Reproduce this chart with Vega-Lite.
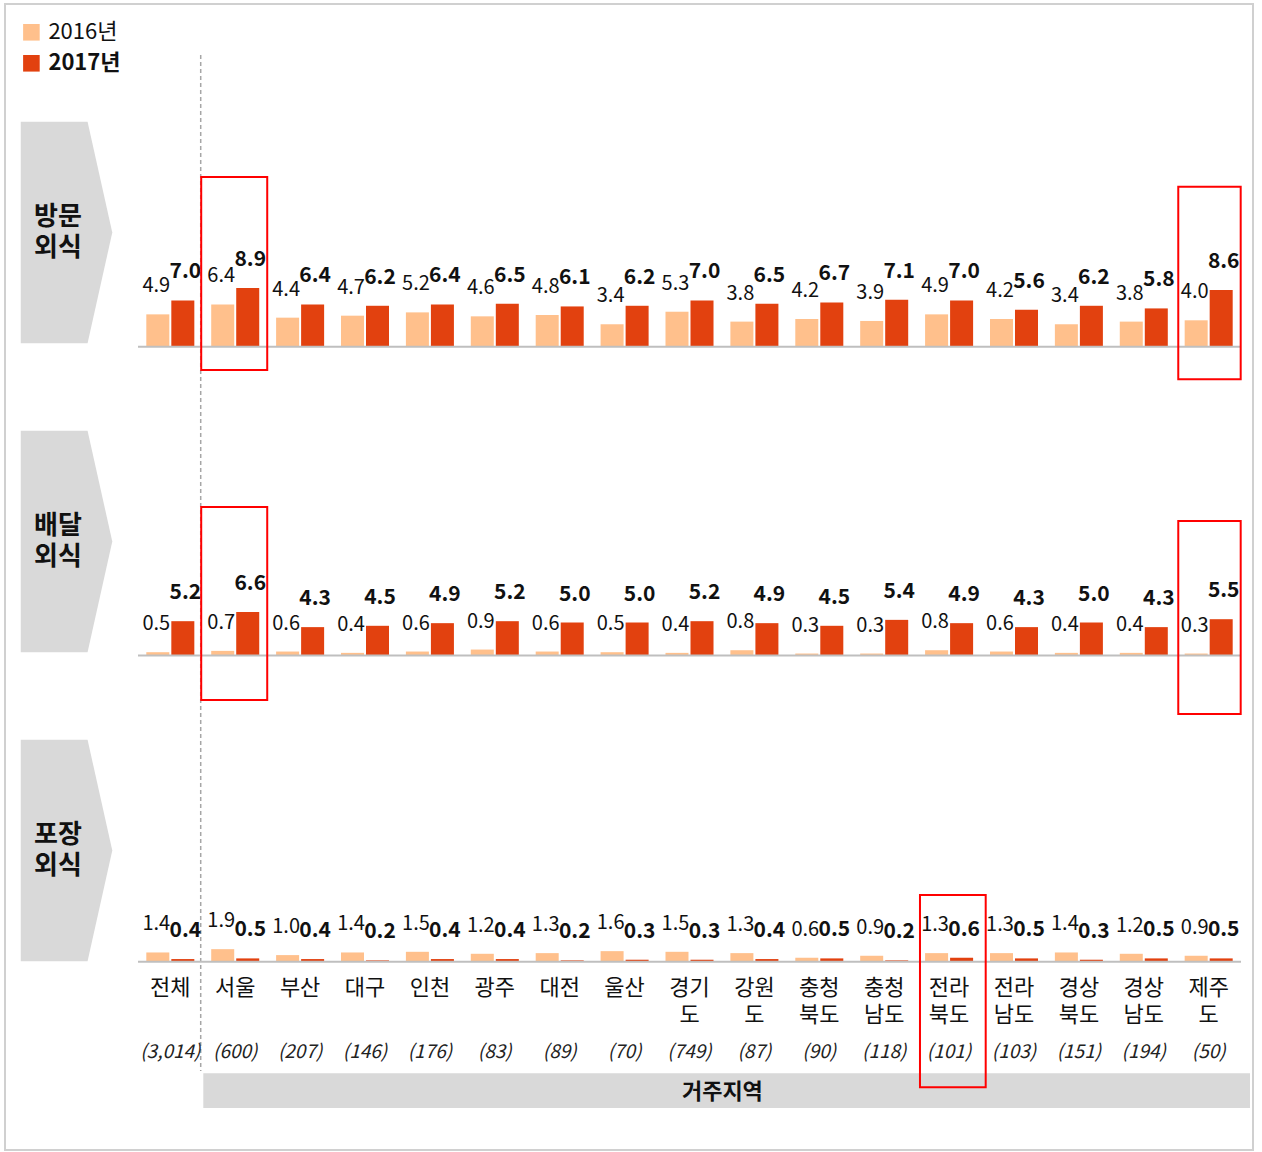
{
  "$schema": "https://vega.github.io/schema/vega-lite/v6.json",
  "width": 1248,
  "height": 1146,
  "padding": {"left": 5, "top": 4, "right": 9, "bottom": 2},
  "autosize": {"type": "none"},
  "background": "white",
  "config": {
    "view": {"stroke": "#d0d0d0", "strokeWidth": 2},
    "font": "Noto Sans CJK KR",
    "text": {"font": "Noto Sans CJK KR", "color": "#111111"}
  },
  "datasets": {
    "main": [
      {"panel": "방문", "region": "전체", "year": "2016년", "value": 4.9},
      {"panel": "방문", "region": "전체", "year": "2017년", "value": 7.0},
      {"panel": "방문", "region": "서울", "year": "2016년", "value": 6.4},
      {"panel": "방문", "region": "서울", "year": "2017년", "value": 8.9},
      {"panel": "방문", "region": "부산", "year": "2016년", "value": 4.4},
      {"panel": "방문", "region": "부산", "year": "2017년", "value": 6.4},
      {"panel": "방문", "region": "대구", "year": "2016년", "value": 4.7},
      {"panel": "방문", "region": "대구", "year": "2017년", "value": 6.2},
      {"panel": "방문", "region": "인천", "year": "2016년", "value": 5.2},
      {"panel": "방문", "region": "인천", "year": "2017년", "value": 6.4},
      {"panel": "방문", "region": "광주", "year": "2016년", "value": 4.6},
      {"panel": "방문", "region": "광주", "year": "2017년", "value": 6.5},
      {"panel": "방문", "region": "대전", "year": "2016년", "value": 4.8},
      {"panel": "방문", "region": "대전", "year": "2017년", "value": 6.1},
      {"panel": "방문", "region": "울산", "year": "2016년", "value": 3.4},
      {"panel": "방문", "region": "울산", "year": "2017년", "value": 6.2},
      {"panel": "방문", "region": "경기도", "year": "2016년", "value": 5.3},
      {"panel": "방문", "region": "경기도", "year": "2017년", "value": 7.0},
      {"panel": "방문", "region": "강원도", "year": "2016년", "value": 3.8},
      {"panel": "방문", "region": "강원도", "year": "2017년", "value": 6.5},
      {"panel": "방문", "region": "충청북도", "year": "2016년", "value": 4.2},
      {"panel": "방문", "region": "충청북도", "year": "2017년", "value": 6.7},
      {"panel": "방문", "region": "충청남도", "year": "2016년", "value": 3.9},
      {"panel": "방문", "region": "충청남도", "year": "2017년", "value": 7.1},
      {"panel": "방문", "region": "전라북도", "year": "2016년", "value": 4.9},
      {"panel": "방문", "region": "전라북도", "year": "2017년", "value": 7.0},
      {"panel": "방문", "region": "전라남도", "year": "2016년", "value": 4.2},
      {"panel": "방문", "region": "전라남도", "year": "2017년", "value": 5.6},
      {"panel": "방문", "region": "경상북도", "year": "2016년", "value": 3.4},
      {"panel": "방문", "region": "경상북도", "year": "2017년", "value": 6.2},
      {"panel": "방문", "region": "경상남도", "year": "2016년", "value": 3.8},
      {"panel": "방문", "region": "경상남도", "year": "2017년", "value": 5.8},
      {"panel": "방문", "region": "제주도", "year": "2016년", "value": 4.0},
      {"panel": "방문", "region": "제주도", "year": "2017년", "value": 8.6},
      {"panel": "배달", "region": "전체", "year": "2016년", "value": 0.5},
      {"panel": "배달", "region": "전체", "year": "2017년", "value": 5.2},
      {"panel": "배달", "region": "서울", "year": "2016년", "value": 0.7},
      {"panel": "배달", "region": "서울", "year": "2017년", "value": 6.6},
      {"panel": "배달", "region": "부산", "year": "2016년", "value": 0.6},
      {"panel": "배달", "region": "부산", "year": "2017년", "value": 4.3},
      {"panel": "배달", "region": "대구", "year": "2016년", "value": 0.4},
      {"panel": "배달", "region": "대구", "year": "2017년", "value": 4.5},
      {"panel": "배달", "region": "인천", "year": "2016년", "value": 0.6},
      {"panel": "배달", "region": "인천", "year": "2017년", "value": 4.9},
      {"panel": "배달", "region": "광주", "year": "2016년", "value": 0.9},
      {"panel": "배달", "region": "광주", "year": "2017년", "value": 5.2},
      {"panel": "배달", "region": "대전", "year": "2016년", "value": 0.6},
      {"panel": "배달", "region": "대전", "year": "2017년", "value": 5.0},
      {"panel": "배달", "region": "울산", "year": "2016년", "value": 0.5},
      {"panel": "배달", "region": "울산", "year": "2017년", "value": 5.0},
      {"panel": "배달", "region": "경기도", "year": "2016년", "value": 0.4},
      {"panel": "배달", "region": "경기도", "year": "2017년", "value": 5.2},
      {"panel": "배달", "region": "강원도", "year": "2016년", "value": 0.8},
      {"panel": "배달", "region": "강원도", "year": "2017년", "value": 4.9},
      {"panel": "배달", "region": "충청북도", "year": "2016년", "value": 0.3},
      {"panel": "배달", "region": "충청북도", "year": "2017년", "value": 4.5},
      {"panel": "배달", "region": "충청남도", "year": "2016년", "value": 0.3},
      {"panel": "배달", "region": "충청남도", "year": "2017년", "value": 5.4},
      {"panel": "배달", "region": "전라북도", "year": "2016년", "value": 0.8},
      {"panel": "배달", "region": "전라북도", "year": "2017년", "value": 4.9},
      {"panel": "배달", "region": "전라남도", "year": "2016년", "value": 0.6},
      {"panel": "배달", "region": "전라남도", "year": "2017년", "value": 4.3},
      {"panel": "배달", "region": "경상북도", "year": "2016년", "value": 0.4},
      {"panel": "배달", "region": "경상북도", "year": "2017년", "value": 5.0},
      {"panel": "배달", "region": "경상남도", "year": "2016년", "value": 0.4},
      {"panel": "배달", "region": "경상남도", "year": "2017년", "value": 4.3},
      {"panel": "배달", "region": "제주도", "year": "2016년", "value": 0.3},
      {"panel": "배달", "region": "제주도", "year": "2017년", "value": 5.5},
      {"panel": "포장", "region": "전체", "year": "2016년", "value": 1.4},
      {"panel": "포장", "region": "전체", "year": "2017년", "value": 0.4},
      {"panel": "포장", "region": "서울", "year": "2016년", "value": 1.9},
      {"panel": "포장", "region": "서울", "year": "2017년", "value": 0.5},
      {"panel": "포장", "region": "부산", "year": "2016년", "value": 1.0},
      {"panel": "포장", "region": "부산", "year": "2017년", "value": 0.4},
      {"panel": "포장", "region": "대구", "year": "2016년", "value": 1.4},
      {"panel": "포장", "region": "대구", "year": "2017년", "value": 0.2},
      {"panel": "포장", "region": "인천", "year": "2016년", "value": 1.5},
      {"panel": "포장", "region": "인천", "year": "2017년", "value": 0.4},
      {"panel": "포장", "region": "광주", "year": "2016년", "value": 1.2},
      {"panel": "포장", "region": "광주", "year": "2017년", "value": 0.4},
      {"panel": "포장", "region": "대전", "year": "2016년", "value": 1.3},
      {"panel": "포장", "region": "대전", "year": "2017년", "value": 0.2},
      {"panel": "포장", "region": "울산", "year": "2016년", "value": 1.6},
      {"panel": "포장", "region": "울산", "year": "2017년", "value": 0.3},
      {"panel": "포장", "region": "경기도", "year": "2016년", "value": 1.5},
      {"panel": "포장", "region": "경기도", "year": "2017년", "value": 0.3},
      {"panel": "포장", "region": "강원도", "year": "2016년", "value": 1.3},
      {"panel": "포장", "region": "강원도", "year": "2017년", "value": 0.4},
      {"panel": "포장", "region": "충청북도", "year": "2016년", "value": 0.6},
      {"panel": "포장", "region": "충청북도", "year": "2017년", "value": 0.5},
      {"panel": "포장", "region": "충청남도", "year": "2016년", "value": 0.9},
      {"panel": "포장", "region": "충청남도", "year": "2017년", "value": 0.2},
      {"panel": "포장", "region": "전라북도", "year": "2016년", "value": 1.3},
      {"panel": "포장", "region": "전라북도", "year": "2017년", "value": 0.6},
      {"panel": "포장", "region": "전라남도", "year": "2016년", "value": 1.3},
      {"panel": "포장", "region": "전라남도", "year": "2017년", "value": 0.5},
      {"panel": "포장", "region": "경상북도", "year": "2016년", "value": 1.4},
      {"panel": "포장", "region": "경상북도", "year": "2017년", "value": 0.3},
      {"panel": "포장", "region": "경상남도", "year": "2016년", "value": 1.2},
      {"panel": "포장", "region": "경상남도", "year": "2017년", "value": 0.5},
      {"panel": "포장", "region": "제주도", "year": "2016년", "value": 0.9},
      {"panel": "포장", "region": "제주도", "year": "2017년", "value": 0.5}
    ],
    "regions": [
      {"region": "전체", "label": "전체", "n": "(3,014)"},
      {"region": "서울", "label": "서울", "n": "(600)"},
      {"region": "부산", "label": "부산", "n": "(207)"},
      {"region": "대구", "label": "대구", "n": "(146)"},
      {"region": "인천", "label": "인천", "n": "(176)"},
      {"region": "광주", "label": "광주", "n": "(83)"},
      {"region": "대전", "label": "대전", "n": "(89)"},
      {"region": "울산", "label": "울산", "n": "(70)"},
      {"region": "경기도", "label": "경기 도", "n": "(749)"},
      {"region": "강원도", "label": "강원 도", "n": "(87)"},
      {"region": "충청북도", "label": "충청 북도", "n": "(90)"},
      {"region": "충청남도", "label": "충청 남도", "n": "(118)"},
      {"region": "전라북도", "label": "전라 북도", "n": "(101)"},
      {"region": "전라남도", "label": "전라 남도", "n": "(103)"},
      {"region": "경상북도", "label": "경상 북도", "n": "(151)"},
      {"region": "경상남도", "label": "경상 남도", "n": "(194)"},
      {"region": "제주도", "label": "제주 도", "n": "(50)"}
    ]
  },
  "data": {"name": "main"},
  "resolve": {"scale": {"y": "independent"}},
  "layer": [
    {
      "data": {"values": [{"from": "서울", "to": "제주도"}]},
      "mark": {"type": "rect", "color": "#d9d9d9", "xOffset": -7.9, "x2Offset": 17.3},
      "encoding": {
        "x": {"field": "from", "type": "nominal", "bandPosition": 0, "axis": null, "scale": {"domain": ["전체","서울","부산","대구","인천","광주","대전","울산","경기도","강원도","충청북도","충청남도","전라북도","전라남도","경상북도","경상남도","제주도"], "range": [133, 1236], "paddingInner": 0.26, "paddingOuter": 0.128}},
        "x2": {"field": "to", "bandPosition": 1},
        "y": {"datum": -16.91, "type": "quantitative", "axis": null, "scale": {"domain": [-28.530, 145.106], "nice": false}},
        "y2": {"datum": -22.17}
      }
    },
    {
      "data": {"values": [{"region": "강원도", "label": "거주지역"}]},
      "mark": {"type": "text", "fontSize": 22, "fontWeight": "bold", "baseline": "middle", "align": "center", "dx": -8},
      "encoding": {
        "x": {"field": "region", "type": "nominal", "bandPosition": 0, "axis": null, "scale": {"domain": ["전체","서울","부산","대구","인천","광주","대전","울산","경기도","강원도","충청북도","충청남도","전라북도","전라남도","경상북도","경상남도","제주도"], "range": [133, 1236], "paddingInner": 0.26, "paddingOuter": 0.128}},
        "y": {"datum": -19.74, "type": "quantitative", "axis": null, "scale": {"domain": [-28.530, 145.106], "nice": false}},
        "text": {"field": "label"}
      }
    },
    {
      "data": {"values": [{"region": "서울"}]},
      "mark": {"type": "rule", "color": "#a6a6a6", "strokeWidth": 1.5, "strokeDash": [4, 3], "xOffset": -10.5},
      "encoding": {
        "x": {"field": "region", "type": "nominal", "bandPosition": 0, "axis": null, "scale": {"domain": ["전체","서울","부산","대구","인천","광주","대전","울산","경기도","강원도","충청북도","충청남도","전라북도","전라남도","경상북도","경상남도","제주도"], "range": [133, 1236], "paddingInner": 0.26, "paddingOuter": 0.128}},
        "y": {"datum": 137.38, "type": "quantitative", "axis": null, "scale": {"domain": [-28.530, 145.106], "nice": false}},
        "y2": {"datum": -16.56}
      }
    },
    {
      "data": {"values": [{"region": "전체", "label": "방문 외식"}]},
      "mark": {"type": "point", "shape": "M-0.413,-1L0.19,-1L0.413,0L0.19,1L-0.413,1Z", "size": 49107, "filled": true, "color": "#d9d9d9", "opacity": 1, "strokeWidth": 0, "xOffset": -103.8},
      "encoding": {
        "x": {"field": "region", "type": "nominal", "axis": null, "scale": {"domain": ["전체","서울","부산","대구","인천","광주","대전","울산","경기도","강원도","충청북도","충청남도","전라북도","전라남도","경상북도","경상남도","제주도"], "range": [133, 1236], "paddingInner": 0.26, "paddingOuter": 0.128}},
        "y": {"datum": 17.3, "type": "quantitative", "axis": null, "scale": {"domain": [-121.712, 51.924], "nice": false}}
      }
    },
    {
      "data": {"values": [{"region": "전체", "label": "방문 외식"}]},
      "mark": {"type": "text", "fontSize": 26, "fontWeight": "bold", "lineBreak": " ", "lineHeight": 31, "align": "center", "baseline": "middle", "dx": -112.3, "dy": -15.5, "color": "#111111"},
      "encoding": {
        "x": {"field": "region", "type": "nominal", "axis": null, "scale": {"domain": ["전체","서울","부산","대구","인천","광주","대전","울산","경기도","강원도","충청북도","충청남도","전라북도","전라남도","경상북도","경상남도","제주도"], "range": [133, 1236], "paddingInner": 0.26, "paddingOuter": 0.128}},
        "y": {"datum": 17.3, "type": "quantitative", "axis": null, "scale": {"domain": [-121.712, 51.924], "nice": false}},
        "text": {"field": "label"}
      }
    },
    {
      "data": {"values": [{"region": "전체", "label": "배달 외식"}]},
      "mark": {"type": "point", "shape": "M-0.413,-1L0.19,-1L0.413,0L0.19,1L-0.413,1Z", "size": 49107, "filled": true, "color": "#d9d9d9", "opacity": 1, "strokeWidth": 0, "xOffset": -103.8},
      "encoding": {
        "x": {"field": "region", "type": "nominal", "axis": null, "scale": {"domain": ["전체","서울","부산","대구","인천","광주","대전","울산","경기도","강원도","충청북도","충청남도","전라북도","전라남도","경상북도","경상남도","제주도"], "range": [133, 1236], "paddingInner": 0.26, "paddingOuter": 0.128}},
        "y": {"datum": 17.27, "type": "quantitative", "axis": null, "scale": {"domain": [-74.924, 98.712], "nice": false}}
      }
    },
    {
      "data": {"values": [{"region": "전체", "label": "배달 외식"}]},
      "mark": {"type": "text", "fontSize": 26, "fontWeight": "bold", "lineBreak": " ", "lineHeight": 31, "align": "center", "baseline": "middle", "dx": -112.3, "dy": -15.5, "color": "#111111"},
      "encoding": {
        "x": {"field": "region", "type": "nominal", "axis": null, "scale": {"domain": ["전체","서울","부산","대구","인천","광주","대전","울산","경기도","강원도","충청북도","충청남도","전라북도","전라남도","경상북도","경상남도","제주도"], "range": [133, 1236], "paddingInner": 0.26, "paddingOuter": 0.128}},
        "y": {"datum": 17.27, "type": "quantitative", "axis": null, "scale": {"domain": [-74.924, 98.712], "nice": false}},
        "text": {"field": "label"}
      }
    },
    {
      "data": {"values": [{"region": "전체", "label": "포장 외식"}]},
      "mark": {"type": "point", "shape": "M-0.413,-1L0.19,-1L0.413,0L0.19,1L-0.413,1Z", "size": 49107, "filled": true, "color": "#d9d9d9", "opacity": 1, "strokeWidth": 0, "xOffset": -103.8},
      "encoding": {
        "x": {"field": "region", "type": "nominal", "axis": null, "scale": {"domain": ["전체","서울","부산","대구","인천","광주","대전","울산","경기도","강원도","충청북도","충청남도","전라북도","전라남도","경상북도","경상남도","제주도"], "range": [133, 1236], "paddingInner": 0.26, "paddingOuter": 0.128}},
        "y": {"datum": 16.85, "type": "quantitative", "axis": null, "scale": {"domain": [-28.530, 145.106], "nice": false}}
      }
    },
    {
      "data": {"values": [{"region": "전체", "label": "포장 외식"}]},
      "mark": {"type": "text", "fontSize": 26, "fontWeight": "bold", "lineBreak": " ", "lineHeight": 31, "align": "center", "baseline": "middle", "dx": -112.3, "dy": -15.5, "color": "#111111"},
      "encoding": {
        "x": {"field": "region", "type": "nominal", "axis": null, "scale": {"domain": ["전체","서울","부산","대구","인천","광주","대전","울산","경기도","강원도","충청북도","충청남도","전라북도","전라남도","경상북도","경상남도","제주도"], "range": [133, 1236], "paddingInner": 0.26, "paddingOuter": 0.128}},
        "y": {"datum": 16.85, "type": "quantitative", "axis": null, "scale": {"domain": [-28.530, 145.106], "nice": false}},
        "text": {"field": "label"}
      }
    },
    {
      "transform": [{"filter": "datum.panel == '방문'"}],
      "mark": {"type": "bar"},
      "encoding": {
        "x": {"field": "region", "type": "nominal", "axis": null, "scale": {"domain": ["전체","서울","부산","대구","인천","광주","대전","울산","경기도","강원도","충청북도","충청남도","전라북도","전라남도","경상북도","경상남도","제주도"], "range": [133, 1236], "paddingInner": 0.26, "paddingOuter": 0.128}},
        "xOffset": {"field": "year", "type": "nominal", "scale": {"domain": ["2016년", "2017년"], "paddingInner": 0.08, "paddingOuter": 0}},
        "y": {"field": "value", "type": "quantitative", "axis": null, "scale": {"domain": [-121.712, 51.924], "nice": false}},
        "color": {"field": "year", "type": "nominal", "scale": {"domain": ["2016년", "2017년"], "range": ["#FFC08C", "#E2410F"]}, "legend": {"title": null, "orient": "none", "legendX": 15.4, "legendY": 17.3, "symbolType": "square", "symbolSize": 275, "symbolStrokeWidth": 0, "labelFontSize": 22, "labelFont": "Noto Sans CJK KR", "labelColor": "#111111", "rowPadding": 9, "labelOffset": 6, "padding": 0, "labelFontWeight": {"expr": "datum.label == '2017년' ? 'bold' : 'normal'"}}}
      }
    },
    {
      "transform": [{"filter": "datum.panel == '방문' && datum.year == '2016년'"}],
      "mark": {"type": "text", "fontSize": 20, "baseline": "middle", "dy": -28, "dx": -1.5, "color": "#111111"},
      "encoding": {
        "x": {"field": "region", "type": "nominal", "axis": null, "scale": {"domain": ["전체","서울","부산","대구","인천","광주","대전","울산","경기도","강원도","충청북도","충청남도","전라북도","전라남도","경상북도","경상남도","제주도"], "range": [133, 1236], "paddingInner": 0.26, "paddingOuter": 0.128}},
        "xOffset": {"field": "year", "type": "nominal", "scale": {"domain": ["2016년", "2017년"], "paddingInner": 0.08, "paddingOuter": 0}},
        "y": {"field": "value", "type": "quantitative", "axis": null, "scale": {"domain": [-121.712, 51.924], "nice": false}},
        "text": {"field": "value", "format": ".1f"}
      }
    },
    {
      "transform": [{"filter": "datum.panel == '방문' && datum.year == '2017년'"}],
      "mark": {"type": "text", "fontSize": 21, "fontWeight": "bold", "baseline": "middle", "dy": -28, "dx": 2.5, "color": "#111111"},
      "encoding": {
        "x": {"field": "region", "type": "nominal", "axis": null, "scale": {"domain": ["전체","서울","부산","대구","인천","광주","대전","울산","경기도","강원도","충청북도","충청남도","전라북도","전라남도","경상북도","경상남도","제주도"], "range": [133, 1236], "paddingInner": 0.26, "paddingOuter": 0.128}},
        "xOffset": {"field": "year", "type": "nominal", "scale": {"domain": ["2016년", "2017년"], "paddingInner": 0.08, "paddingOuter": 0}},
        "y": {"field": "value", "type": "quantitative", "axis": null, "scale": {"domain": [-121.712, 51.924], "nice": false}},
        "text": {"field": "value", "format": ".1f"}
      }
    },
    {
      "data": {"values": [{"from": "전체", "to": "제주도"}]},
      "mark": {"type": "rule", "color": "#bfbfbf", "strokeWidth": 2, "xOffset": -8.3, "x2Offset": 8.3},
      "encoding": {
        "x": {"field": "from", "type": "nominal", "bandPosition": 0, "axis": null, "scale": {"domain": ["전체","서울","부산","대구","인천","광주","대전","울산","경기도","강원도","충청북도","충청남도","전라북도","전라남도","경상북도","경상남도","제주도"], "range": [133, 1236], "paddingInner": 0.26, "paddingOuter": 0.128}},
        "x2": {"field": "to", "bandPosition": 1},
        "y": {"datum": 0, "type": "quantitative", "axis": null, "scale": {"domain": [-121.712, 51.924], "nice": false}}
      }
    },
    {
      "transform": [{"filter": "datum.panel == '배달'"}],
      "mark": {"type": "bar"},
      "encoding": {
        "x": {"field": "region", "type": "nominal", "axis": null, "scale": {"domain": ["전체","서울","부산","대구","인천","광주","대전","울산","경기도","강원도","충청북도","충청남도","전라북도","전라남도","경상북도","경상남도","제주도"], "range": [133, 1236], "paddingInner": 0.26, "paddingOuter": 0.128}},
        "xOffset": {"field": "year", "type": "nominal", "scale": {"domain": ["2016년", "2017년"], "paddingInner": 0.08, "paddingOuter": 0}},
        "y": {"field": "value", "type": "quantitative", "axis": null, "scale": {"domain": [-74.924, 98.712], "nice": false}},
        "color": {"field": "year", "type": "nominal", "scale": {"domain": ["2016년", "2017년"], "range": ["#FFC08C", "#E2410F"]}, "legend": {"title": null, "orient": "none", "legendX": 15.4, "legendY": 17.3, "symbolType": "square", "symbolSize": 275, "symbolStrokeWidth": 0, "labelFontSize": 22, "labelFont": "Noto Sans CJK KR", "labelColor": "#111111", "rowPadding": 9, "labelOffset": 6, "padding": 0, "labelFontWeight": {"expr": "datum.label == '2017년' ? 'bold' : 'normal'"}}}
      }
    },
    {
      "transform": [{"filter": "datum.panel == '배달' && datum.year == '2016년'"}],
      "mark": {"type": "text", "fontSize": 20, "baseline": "middle", "dy": -28, "dx": -1.5, "color": "#111111"},
      "encoding": {
        "x": {"field": "region", "type": "nominal", "axis": null, "scale": {"domain": ["전체","서울","부산","대구","인천","광주","대전","울산","경기도","강원도","충청북도","충청남도","전라북도","전라남도","경상북도","경상남도","제주도"], "range": [133, 1236], "paddingInner": 0.26, "paddingOuter": 0.128}},
        "xOffset": {"field": "year", "type": "nominal", "scale": {"domain": ["2016년", "2017년"], "paddingInner": 0.08, "paddingOuter": 0}},
        "y": {"field": "value", "type": "quantitative", "axis": null, "scale": {"domain": [-74.924, 98.712], "nice": false}},
        "text": {"field": "value", "format": ".1f"}
      }
    },
    {
      "transform": [{"filter": "datum.panel == '배달' && datum.year == '2017년'"}],
      "mark": {"type": "text", "fontSize": 21, "fontWeight": "bold", "baseline": "middle", "dy": -28, "dx": 2.5, "color": "#111111"},
      "encoding": {
        "x": {"field": "region", "type": "nominal", "axis": null, "scale": {"domain": ["전체","서울","부산","대구","인천","광주","대전","울산","경기도","강원도","충청북도","충청남도","전라북도","전라남도","경상북도","경상남도","제주도"], "range": [133, 1236], "paddingInner": 0.26, "paddingOuter": 0.128}},
        "xOffset": {"field": "year", "type": "nominal", "scale": {"domain": ["2016년", "2017년"], "paddingInner": 0.08, "paddingOuter": 0}},
        "y": {"field": "value", "type": "quantitative", "axis": null, "scale": {"domain": [-74.924, 98.712], "nice": false}},
        "text": {"field": "value", "format": ".1f"}
      }
    },
    {
      "data": {"values": [{"from": "전체", "to": "제주도"}]},
      "mark": {"type": "rule", "color": "#bfbfbf", "strokeWidth": 2, "xOffset": -8.3, "x2Offset": 8.3},
      "encoding": {
        "x": {"field": "from", "type": "nominal", "bandPosition": 0, "axis": null, "scale": {"domain": ["전체","서울","부산","대구","인천","광주","대전","울산","경기도","강원도","충청북도","충청남도","전라북도","전라남도","경상북도","경상남도","제주도"], "range": [133, 1236], "paddingInner": 0.26, "paddingOuter": 0.128}},
        "x2": {"field": "to", "bandPosition": 1},
        "y": {"datum": 0, "type": "quantitative", "axis": null, "scale": {"domain": [-74.924, 98.712], "nice": false}}
      }
    },
    {
      "transform": [{"filter": "datum.panel == '포장'"}],
      "mark": {"type": "bar"},
      "encoding": {
        "x": {"field": "region", "type": "nominal", "axis": null, "scale": {"domain": ["전체","서울","부산","대구","인천","광주","대전","울산","경기도","강원도","충청북도","충청남도","전라북도","전라남도","경상북도","경상남도","제주도"], "range": [133, 1236], "paddingInner": 0.26, "paddingOuter": 0.128}},
        "xOffset": {"field": "year", "type": "nominal", "scale": {"domain": ["2016년", "2017년"], "paddingInner": 0.08, "paddingOuter": 0}},
        "y": {"field": "value", "type": "quantitative", "axis": null, "scale": {"domain": [-28.530, 145.106], "nice": false}},
        "color": {"field": "year", "type": "nominal", "scale": {"domain": ["2016년", "2017년"], "range": ["#FFC08C", "#E2410F"]}, "legend": {"title": null, "orient": "none", "legendX": 15.4, "legendY": 17.3, "symbolType": "square", "symbolSize": 275, "symbolStrokeWidth": 0, "labelFontSize": 22, "labelFont": "Noto Sans CJK KR", "labelColor": "#111111", "rowPadding": 9, "labelOffset": 6, "padding": 0, "labelFontWeight": {"expr": "datum.label == '2017년' ? 'bold' : 'normal'"}}}
      }
    },
    {
      "transform": [{"filter": "datum.panel == '포장' && datum.year == '2016년'"}],
      "mark": {"type": "text", "fontSize": 20, "baseline": "middle", "dy": -28, "dx": -1.5, "color": "#111111"},
      "encoding": {
        "x": {"field": "region", "type": "nominal", "axis": null, "scale": {"domain": ["전체","서울","부산","대구","인천","광주","대전","울산","경기도","강원도","충청북도","충청남도","전라북도","전라남도","경상북도","경상남도","제주도"], "range": [133, 1236], "paddingInner": 0.26, "paddingOuter": 0.128}},
        "xOffset": {"field": "year", "type": "nominal", "scale": {"domain": ["2016년", "2017년"], "paddingInner": 0.08, "paddingOuter": 0}},
        "y": {"field": "value", "type": "quantitative", "axis": null, "scale": {"domain": [-28.530, 145.106], "nice": false}},
        "text": {"field": "value", "format": ".1f"}
      }
    },
    {
      "transform": [{"filter": "datum.panel == '포장' && datum.year == '2017년'"}],
      "mark": {"type": "text", "fontSize": 21, "fontWeight": "bold", "baseline": "middle", "dy": -28, "dx": 2.5, "color": "#111111"},
      "encoding": {
        "x": {"field": "region", "type": "nominal", "axis": null, "scale": {"domain": ["전체","서울","부산","대구","인천","광주","대전","울산","경기도","강원도","충청북도","충청남도","전라북도","전라남도","경상북도","경상남도","제주도"], "range": [133, 1236], "paddingInner": 0.26, "paddingOuter": 0.128}},
        "xOffset": {"field": "year", "type": "nominal", "scale": {"domain": ["2016년", "2017년"], "paddingInner": 0.08, "paddingOuter": 0}},
        "y": {"field": "value", "type": "quantitative", "axis": null, "scale": {"domain": [-28.530, 145.106], "nice": false}},
        "text": {"field": "value", "format": ".1f"}
      }
    },
    {
      "data": {"values": [{"from": "전체", "to": "제주도"}]},
      "mark": {"type": "rule", "color": "#bfbfbf", "strokeWidth": 2, "xOffset": -8.3, "x2Offset": 8.3},
      "encoding": {
        "x": {"field": "from", "type": "nominal", "bandPosition": 0, "axis": null, "scale": {"domain": ["전체","서울","부산","대구","인천","광주","대전","울산","경기도","강원도","충청북도","충청남도","전라북도","전라남도","경상북도","경상남도","제주도"], "range": [133, 1236], "paddingInner": 0.26, "paddingOuter": 0.128}},
        "x2": {"field": "to", "bandPosition": 1},
        "y": {"datum": 0, "type": "quantitative", "axis": null, "scale": {"domain": [-28.530, 145.106], "nice": false}}
      }
    },
    {
      "data": {"name": "regions"},
      "mark": {"type": "text", "fontSize": 22, "lineBreak": " ", "lineHeight": 27, "align": "center", "baseline": "alphabetic", "color": "#111111"},
      "encoding": {
        "x": {"field": "region", "type": "nominal", "axis": null, "scale": {"domain": ["전체","서울","부산","대구","인천","광주","대전","울산","경기도","강원도","충청북도","충청남도","전라북도","전라남도","경상북도","경상남도","제주도"], "range": [133, 1236], "paddingInner": 0.26, "paddingOuter": 0.128}},
        "y": {"datum": -4.97, "type": "quantitative", "axis": null, "scale": {"domain": [-28.530, 145.106], "nice": false}},
        "text": {"field": "label"}
      }
    },
    {
      "data": {"name": "regions"},
      "mark": {"type": "text", "fontSize": 19, "fontStyle": "italic", "align": "center", "baseline": "alphabetic", "color": "#222222"},
      "encoding": {
        "x": {"field": "region", "type": "nominal", "axis": null, "scale": {"domain": ["전체","서울","부산","대구","인천","광주","대전","울산","경기도","강원도","충청북도","충청남도","전라북도","전라남도","경상북도","경상남도","제주도"], "range": [133, 1236], "paddingInner": 0.26, "paddingOuter": 0.128}},
        "y": {"datum": -14.52, "type": "quantitative", "axis": null, "scale": {"domain": [-28.530, 145.106], "nice": false}},
        "text": {"field": "n"}
      }
    },
    {
      "data": {"values": [{"region": "서울"}]},
      "mark": {"type": "rect", "fill": null, "filled": false, "stroke": "#ff0000", "strokeWidth": 2, "xOffset": -10, "x2Offset": 8},
      "encoding": {
        "x": {"field": "region", "type": "nominal", "bandPosition": 0, "axis": null, "scale": {"domain": ["전체","서울","부산","대구","인천","광주","대전","울산","경기도","강원도","충청북도","충청남도","전라북도","전라남도","경상북도","경상남도","제주도"], "range": [133, 1236], "paddingInner": 0.26, "paddingOuter": 0.128}},
        "x2": {"field": "region", "bandPosition": 1},
        "y": {"datum": 25.71, "type": "quantitative", "axis": null, "scale": {"domain": [-121.712, 51.924], "nice": false}},
        "y2": {"datum": -3.53}
      }
    },
    {
      "data": {"values": [{"region": "제주도"}]},
      "mark": {"type": "rect", "fill": null, "filled": false, "stroke": "#ff0000", "strokeWidth": 2, "xOffset": -6.4, "x2Offset": 8},
      "encoding": {
        "x": {"field": "region", "type": "nominal", "bandPosition": 0, "axis": null, "scale": {"domain": ["전체","서울","부산","대구","인천","광주","대전","울산","경기도","강원도","충청북도","충청남도","전라북도","전라남도","경상북도","경상남도","제주도"], "range": [133, 1236], "paddingInner": 0.26, "paddingOuter": 0.128}},
        "x2": {"field": "region", "bandPosition": 1},
        "y": {"datum": 24.24, "type": "quantitative", "axis": null, "scale": {"domain": [-121.712, 51.924], "nice": false}},
        "y2": {"datum": -4.94}
      }
    },
    {
      "data": {"values": [{"region": "서울"}]},
      "mark": {"type": "rect", "fill": null, "filled": false, "stroke": "#ff0000", "strokeWidth": 2, "xOffset": -10, "x2Offset": 8},
      "encoding": {
        "x": {"field": "region", "type": "nominal", "bandPosition": 0, "axis": null, "scale": {"domain": ["전체","서울","부산","대구","인천","광주","대전","울산","경기도","강원도","충청북도","충청남도","전라북도","전라남도","경상북도","경상남도","제주도"], "range": [133, 1236], "paddingInner": 0.26, "paddingOuter": 0.128}},
        "x2": {"field": "region", "bandPosition": 1},
        "y": {"datum": 22.50, "type": "quantitative", "axis": null, "scale": {"domain": [-74.924, 98.712], "nice": false}},
        "y2": {"datum": -6.74}
      }
    },
    {
      "data": {"values": [{"region": "제주도"}]},
      "mark": {"type": "rect", "fill": null, "filled": false, "stroke": "#ff0000", "strokeWidth": 2, "xOffset": -6.4, "x2Offset": 8},
      "encoding": {
        "x": {"field": "region", "type": "nominal", "bandPosition": 0, "axis": null, "scale": {"domain": ["전체","서울","부산","대구","인천","광주","대전","울산","경기도","강원도","충청북도","충청남도","전라북도","전라남도","경상북도","경상남도","제주도"], "range": [133, 1236], "paddingInner": 0.26, "paddingOuter": 0.128}},
        "x2": {"field": "region", "bandPosition": 1},
        "y": {"datum": 20.38, "type": "quantitative", "axis": null, "scale": {"domain": [-74.924, 98.712], "nice": false}},
        "y2": {"datum": -8.86}
      }
    },
    {
      "data": {"values": [{"region": "전라북도"}]},
      "mark": {"type": "rect", "fill": null, "filled": false, "stroke": "#ff0000", "strokeWidth": 2, "xOffset": -5.1, "x2Offset": 12.6},
      "encoding": {
        "x": {"field": "region", "type": "nominal", "bandPosition": 0, "axis": null, "scale": {"domain": ["전체","서울","부산","대구","인천","광주","대전","울산","경기도","강원도","충청북도","충청남도","전라북도","전라남도","경상북도","경상남도","제주도"], "range": [133, 1236], "paddingInner": 0.26, "paddingOuter": 0.128}},
        "x2": {"field": "region", "bandPosition": 1},
        "y": {"datum": 10.11, "type": "quantitative", "axis": null, "scale": {"domain": [-28.530, 145.106], "nice": false}},
        "y2": {"datum": -19.03}
      }
    }
  ]
}
